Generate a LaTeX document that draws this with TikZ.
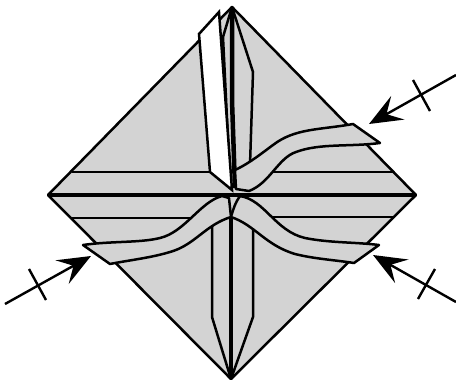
\documentclass[tikz,border=0pt]{standalone}
\usepackage{tikz}
\usepackage{xcolor}
\usetikzlibrary{arrows.meta}
\definecolor{paperGrey}{RGB}{211,211,211}
\begin{document}
\begin{tikzpicture}[
  x=1pt,y=-1pt,
  fold/.style={draw=black,line width=2.5pt,line join=miter},
  centre/.style={draw=black,line width=4.5pt},
  band/.style={fold,fill=paperGrey,line join=round},
  arrow/.style={-{Stealth[length=33pt,width=27pt,inset=13pt]},line width=2.4pt,draw=black},
  tick/.style={draw=black,line width=2.4pt}
]
  \useasboundingbox (0,0) rectangle (456,380);

  \coordinate (top) at (232,7);
  \coordinate (left) at (48,195);
  \coordinate (right) at (416,195);
  \coordinate (bottom) at (231,379);

  \draw[fold,fill=paperGrey,line join=round] (top) -- (right) -- (bottom) -- (left) -- cycle;

  \draw[fold] (72,172) -- (210,172);
  \draw[fold] (270,172) -- (393,172);
  \draw[fold] (72,218) -- (195,218);
  \draw[fold] (270,217) -- (395,217);

  \draw[fold] (top) -- (253,72) -- (250,165);
  \draw[fold] (212,225) -- (212,317) -- (bottom);
  \draw[fold] (253,225) -- (253,317) -- (bottom);
  \draw[fold] (top) -- (223,37) -- (230,180);

  \draw[fold,fill=white] (219,12) -- (199,34) -- (210,172) -- (232,190) -- cycle;

  \draw[centre] (left) -- (right);
  \draw[centre] (top) -- (232,100) -- (235,188);
  \draw[centre] (231,217) -- (bottom);

  \draw[band] (235,170) .. controls (250,163) and (262,153) .. (273,145)
    .. controls (295,128) and (320,130) .. (353,124)
    -- (380,143) .. controls (350,147) and (320,143) .. (296,152)
    .. controls (278,158) and (270,183) .. (249,191)
    -- (236,189) -- cycle;

  \draw[band] (83,245) .. controls (110,241) and (140,243) .. (160,238)
    .. controls (185,232) and (200,202) .. (222,196)
    -- (229,198) -- (231,217)
    .. controls (205,225) and (195,245) .. (170,252)
    .. controls (150,258) and (130,260) .. (110,264) -- cycle;

  \draw[band] (379,245) .. controls (355,242) and (330,243) .. (305,238)
    .. controls (275,231) and (265,200) .. (240,196)
    .. controls (235,203) and (233,210) .. (231,217)
    .. controls (255,225) and (265,245) .. (295,254)
    .. controls (315,259) and (335,260) .. (354,263) -- cycle;

  \draw[arrow] (5,304) -- (91,256);
  \draw[tick] (29,269) -- (46,300);

  \draw[arrow] (456,75) -- (369,124);
  \draw[tick] (413,80) -- (430,111);

  \draw[arrow] (456,302) -- (373,255);
  \draw[tick] (435,269) -- (418,299);
\end{tikzpicture}
\end{document}
